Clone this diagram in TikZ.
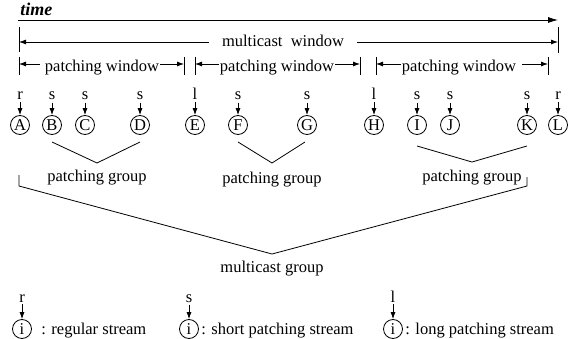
\documentclass[tikz,border=0pt]{standalone}
\usepackage{fontspec}
\setmainfont{Liberation Serif}
\usetikzlibrary{arrows.meta}
\begin{document}
\begin{tikzpicture}[x=1pt,y=-1pt,line width=0.8pt,
  font=\fontsize{16.5}{18}\selectfont,
  >={Latex[length=7pt,width=5pt]},
  txt/.style={anchor=base,inner sep=1pt},
  circ/.style={circle,draw,minimum size=19pt,inner sep=0pt},
  lab/.style={anchor=base,inner sep=1pt},
  bar/.style={line width=0.8pt}]
\useasboundingbox (0,0) rectangle (580,339);
% time axis
\node[anchor=base west,inner sep=0pt,font=\fontsize{18}{20}\selectfont\bfseries\itshape] (time) at (20,16) {time};
\coordinate (t0) at (18,20);
\coordinate (t1) at (558,20);
\draw[->,>={Latex[length=10pt,width=6pt]}] (t0) -- (t1);
% multicast window
\coordinate (mwa) at (19,27); \coordinate (mwb) at (19,52);
\coordinate (mwc) at (558,27); \coordinate (mwd) at (558,53);
\draw[bar] (mwa) -- (mwb); \draw[bar] (mwc) -- (mwd);
\coordinate (mwl) at (19,42); \coordinate (mwr) at (558,42);
\node[txt,inner xsep=13pt] (mw) at (283,47) {multicast\ \ window};
\draw[->] (mw.west |- mwl) -- (mwl);
\draw[->] (mw.east |- mwr) -- (mwr);
% patching windows
\foreach \n/\xl/\xr/\xc in {1/19/184/102, 2/195/360/277, 3/376/548/459}{
  \coordinate (pwa\n) at (\xl,57); \coordinate (pwb\n) at (\xl,75);
  \coordinate (pwc\n) at (\xr,57); \coordinate (pwd\n) at (\xr,75);
  \draw[bar] (pwa\n) -- (pwb\n); \draw[bar] (pwc\n) -- (pwd\n);
  \coordinate (pwl\n) at (\xl,64); \coordinate (pwr\n) at (\xr,64);
  \node[txt] (pw\n) at (\xc,72) {patching window};
}
\draw[->] ([xshift=-4pt]pw1.west |- pwl1) -- (pwl1);
\draw[->] (pw1.east |- pwr1) -- (pwr1);
\draw[->] (pw2.west |- pwl2) -- (pwl2);
\draw[->] (pw2.east |- pwr2) -- (pwr2);
\draw[->] (pw3.west |- pwl3) -- (pwl3);
\draw[->] ([xshift=5pt]pw3.east |- pwr3) -- (pwr3);
% stream circles
\foreach \c/\x/\l in {A/20/r, B/52/s, C/85/s, D/140/s, E/195/l, F/238/s,
                      G/307/s, H/374/l, I/417/s, J/450/s, K/527/s, L/558/r}{
  \node[circ] (\c) at (\x,125) {\c};
  \node[lab] (l\c) at (\x,100) {\l};
  \draw[->] ([yshift=-1pt]l\c.south) -- (\c.north);
}
% patching groups
\coordinate (g1a) at (52,142); \coordinate (g1b) at (97,163); \coordinate (g1c) at (140,142);
\coordinate (g2a) at (238,142); \coordinate (g2b) at (272,163); \coordinate (g2c) at (305,142);
\coordinate (g3a) at (417,146); \coordinate (g3b) at (472,162); \coordinate (g3c) at (527,146);
\draw (g1a) -- (g1b) -- (g1c);
\draw (g2a) -- (g2b) -- (g2c);
\draw (g3a) -- (g3b) -- (g3c);
\node[txt] (pg1) at (97,181) {patching group};
\node[txt] (pg2) at (272,183) {patching group};
\node[txt] (pg3) at (472,181) {patching group};
% multicast group
\coordinate (m1) at (19,175); \coordinate (m2) at (19,186);
\coordinate (m3) at (272,254);
\coordinate (m4) at (527,186); \coordinate (m5) at (527,177);
\draw (m1) -- (m2) -- (m3) -- (m4) -- (m5);
\node[txt] (mg) at (272,272) {multicast group};
% legend
\foreach \n/\x/\l/\t/\tx in {1/22/r/{: regular stream}/41, 2/189/s/{: short patching stream}/201, 3/393/l/{: long patching stream}/405}{
  \node[circ] (li\n) at (\x,329) {i};
  \node[lab] (ll\n) at (\x,302) {\l};
  \draw[->] ([yshift=-1pt]ll\n.south) -- (li\n.north);
  \node[anchor=base west,inner sep=0pt] (lt\n) at (\tx,334) {\t};
}
\end{tikzpicture}
\end{document}
